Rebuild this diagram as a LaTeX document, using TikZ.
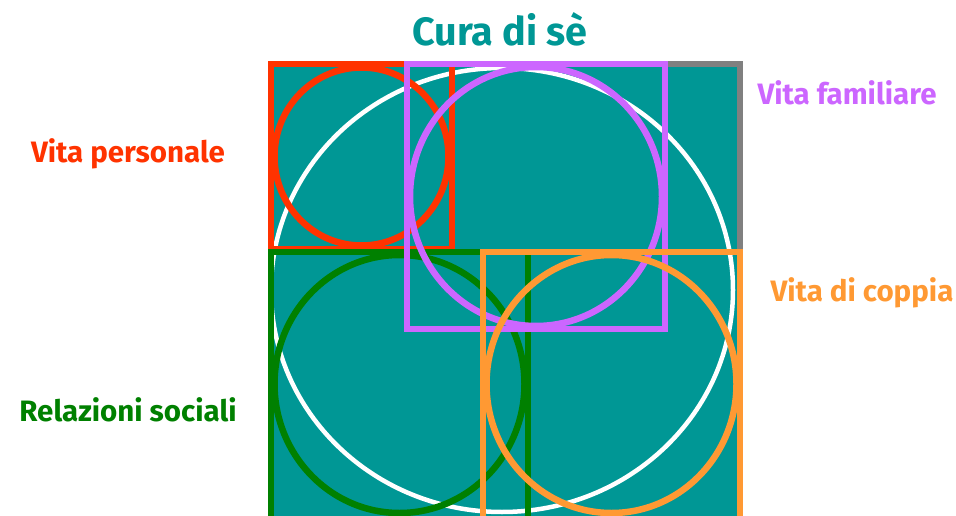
\documentclass[tikz,border=0pt]{standalone}
\usepackage{fontspec}
\setmainfont{Fira Sans}
\definecolor{tealc}{HTML}{009795}
\definecolor{grayc}{HTML}{808080}
\definecolor{redc}{HTML}{FF3300}
\definecolor{purc}{HTML}{CC66FF}
\definecolor{grnc}{HTML}{008000}
\definecolor{orac}{HTML}{FF9933}
\begin{document}
\begin{tikzpicture}[x=1pt,y=-1pt,
  frame/.style={line width=6.5pt},
  lbl/.style={font=\fontsize{29.5}{32}\selectfont\bfseries, inner sep=0pt}]
\useasboundingbox (0,0) rectangle (956,516);
\begin{scope}
\clip (0,0) rectangle (956,516);
\draw[grayc, line width=6.5pt, fill=tealc] (271,64) rectangle (740,560);
\draw[white, line width=4.5pt] (502,290) ellipse [x radius=231, y radius=222];
% red
\draw[redc, frame] (271,64) rectangle (452,249);
\draw[redc, frame] (361.5,156.5) ellipse [x radius=87, y radius=89];
% green
\draw[grnc, frame] (271,252) rectangle (528,540);
\draw[grnc, frame] (399.5,384) ellipse [x radius=125, y radius=129];
% purple
\draw[purc, frame] (407,64) rectangle (665,329);
\draw[purc, frame] (536,196.5) ellipse [x radius=126, y radius=129.5];
% orange
\draw[orac, frame] (483,252) rectangle (740,540);
\draw[orac, frame] (611.5,384) ellipse [x radius=125, y radius=129];
\end{scope}
\node[lbl, text=tealc, font=\fontsize{39.5}{42}\selectfont\bfseries] (t) at (500,29) {Cura di sè};
\node[lbl, text=redc] (vp) at (128,154) {Vita personale};
\node[lbl, text=grnc] (rs) at (128,410) {Relazioni sociali};
\node[lbl, text=purc] (vf) at (847,93) {Vita familiare};
\node[lbl, text=orac] (vc) at (862,293) {Vita di coppia};
\end{tikzpicture}
\end{document}
